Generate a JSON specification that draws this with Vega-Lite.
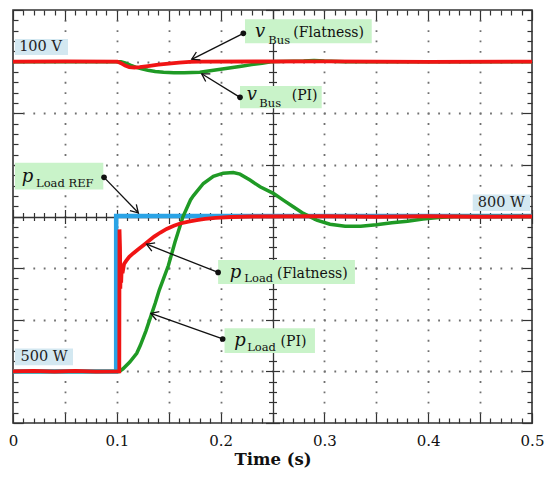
{
  "$schema": "https://vega.github.io/schema/vega-lite/v6.json",
  "width": 519,
  "height": 413,
  "autosize": {"type": "none"},
  "padding": {"left": 13, "top": 10, "right": 18, "bottom": 56},
  "background": "white",
  "config": {
    "view": {"stroke": "#333", "strokeWidth": 1.6},
    "axis": {"domain": false, "grid": false, "labels": false, "ticks": false, "tickColor": "#333", "tickWidth": 1.2}
  },
  "datasets": {
    "pref": [{"t":0,"P":500},{"t":0.0994,"P":500},{"t":0.0994,"P":801},{"t":0.5,"P":801}],
    "ppi": [{"t":0,"P":500},{"t":0.05,"P":500},{"t":0.1024,"P":500},{"t":0.106,"P":505},{"t":0.1125,"P":518},{"t":0.1192,"P":535},{"t":0.1226,"P":550},{"t":0.128,"P":578},{"t":0.133,"P":608},{"t":0.137,"P":632},{"t":0.141,"P":658},{"t":0.1497,"P":705},{"t":0.156,"P":750},{"t":0.1638,"P":800},{"t":0.171,"P":832},{"t":0.1737,"P":840},{"t":0.1834,"P":864},{"t":0.193,"P":878},{"t":0.2025,"P":884},{"t":0.2122,"P":885},{"t":0.2187,"P":882},{"t":0.2283,"P":870.5},{"t":0.238,"P":857.6},{"t":0.2508,"P":844.8},{"t":0.2604,"P":831.8},{"t":0.27,"P":818.8},{"t":0.2797,"P":806},{"t":0.2926,"P":793},{"t":0.3054,"P":785},{"t":0.32,"P":781},{"t":0.335,"P":781},{"t":0.35,"P":784},{"t":0.365,"P":788},{"t":0.38,"P":791},{"t":0.395,"P":795},{"t":0.41,"P":798},{"t":0.425,"P":800},{"t":0.5,"P":800}],
    "pflat": [{"t":0,"P":500},{"t":0.02,"P":501},{"t":0.04,"P":499.5},{"t":0.06,"P":501},{"t":0.08,"P":499.5},{"t":0.1024,"P":500},{"t":0.1026,"P":775},{"t":0.1031,"P":740},{"t":0.1034,"P":660},{"t":0.1038,"P":705},{"t":0.1042,"P":672},{"t":0.1047,"P":700},{"t":0.1055,"P":690},{"t":0.107,"P":708},{"t":0.109,"P":714},{"t":0.112,"P":722},{"t":0.116,"P":729},{"t":0.121,"P":737},{"t":0.126,"P":745},{"t":0.131,"P":753},{"t":0.136,"P":761},{"t":0.142,"P":769},{"t":0.148,"P":776},{"t":0.155,"P":782},{"t":0.161,"P":786.5},{"t":0.169,"P":790},{"t":0.177,"P":793},{"t":0.185,"P":795.5},{"t":0.195,"P":797.5},{"t":0.21,"P":799},{"t":0.23,"P":800},{"t":0.3,"P":800.5},{"t":0.35,"P":799.5},{"t":0.4,"P":800.5},{"t":0.45,"P":799.5},{"t":0.5,"P":800}],
    "vpi": [{"t":0,"V":100},{"t":0.104,"V":100},{"t":0.108,"V":99.88},{"t":0.113,"V":99.66},{"t":0.118,"V":99.47},{"t":0.124,"V":99.3},{"t":0.13,"V":99.17},{"t":0.137,"V":99.05},{"t":0.145,"V":98.97},{"t":0.155,"V":98.93},{"t":0.165,"V":98.93},{"t":0.18,"V":98.97},{"t":0.19,"V":99.12},{"t":0.2,"V":99.26},{"t":0.21,"V":99.41},{"t":0.22,"V":99.56},{"t":0.23,"V":99.71},{"t":0.24,"V":99.85},{"t":0.25,"V":100},{"t":0.28,"V":100.05},{"t":0.29,"V":100.1},{"t":0.3,"V":100.05},{"t":0.32,"V":100},{"t":0.5,"V":100}],
    "vflat": [{"t":0,"V":100},{"t":0.05,"V":100.03},{"t":0.1005,"V":100},{"t":0.104,"V":99.85},{"t":0.108,"V":99.62},{"t":0.112,"V":99.47},{"t":0.117,"V":99.43},{"t":0.122,"V":99.47},{"t":0.13,"V":99.57},{"t":0.14,"V":99.7},{"t":0.15,"V":99.8},{"t":0.16,"V":99.9},{"t":0.17,"V":99.97},{"t":0.18,"V":100},{"t":0.3,"V":100.03},{"t":0.4,"V":99.98},{"t":0.5,"V":100}],
    "gboxes": [
      {"t1":0.2235,"t2":0.3456,"P1":1182,"P2":1135.5},
      {"t1":0.2187,"t2":0.2974,"P1":1052.7,"P2":1009.5},
      {"t1":0.0019,"t2":0.087,"P1":904.1,"P2":852.5},
      {"t1":0.1976,"t2":0.3294,"P1":715.5,"P2":669.2},
      {"t1":0.2038,"t2":0.2909,"P1":583.5,"P2":535.8}
    ],
    "bboxes": [
      {"t1":0.0019,"t2":0.053,"P1":1143.8,"P2":1112.8},
      {"t1":0.4429,"t2":0.4981,"P1":842.8,"P2":810.5},
      {"t1":0.0019,"t2":0.0578,"P1":544.4,"P2":512}
    ],
    "arrows": [
      {"id":1,"t":0.2219,"P":1154.8},{"id":1,"t":0.1722,"P":1104.5},
      {"id":2,"t":0.2187,"P":1030.8},{"id":2,"t":0.1818,"P":1076.4},
      {"id":3,"t":0.0877,"P":875.8},{"id":3,"t":0.1207,"P":807.2},
      {"id":4,"t":0.1976,"P":691.7},{"id":4,"t":0.1287,"P":746.3},
      {"id":5,"t":0.202,"P":562.8},{"id":5,"t":0.1328,"P":612.4}
    ],
    "dots": [
      {"t":0.2219,"P":1154.8},{"t":0.2187,"P":1030.8},{"t":0.0877,"P":875.8},{"t":0.1976,"P":691.7},{"t":0.202,"P":562.8}
    ],
    "heads": [
      {"t":0.1722,"P":1104.5,"ang":153.3},
      {"t":0.1818,"P":1076.4,"ang":211.5},
      {"t":0.1207,"P":807.2,"ang":45.9},
      {"t":0.1287,"P":746.3,"ang":201.5},
      {"t":0.1328,"P":612.4,"ang":199.6}
    ],
    "syms": [
      {"t":0.2331,"P":1147.1,"s":"v"},
      {"t":0.2251,"P":1025.6,"s":"v"},
      {"t":0.0084,"P":867.3,"s":"p"},
      {"t":0.2088,"P":680.6,"s":"p"},
      {"t":0.2132,"P":548.7,"s":"p"}
    ],
    "subs": [
      {"t":0.246,"P":1133.5,"s":"Bus"},
      {"t":0.2373,"P":1011.4,"s":"Bus"},
      {"t":0.0222,"P":856.4,"s":"Load REF"},
      {"t":0.2229,"P":672.3,"s":"Load"},
      {"t":0.2256,"P":540.3,"s":"Load"}
    ],
    "labs": [
      {"t":0.27,"P":1147.1,"s":"(Flatness)"},
      {"t":0.2685,"P":1025.6,"s":"(PI)"},
      {"t":0.2543,"P":680.6,"s":"(Flatness)"},
      {"t":0.2578,"P":548.7,"s":"(PI)"}
    ],
    "boxlabs": [
      {"t":0.0265,"P":1128,"s":"100 V"},
      {"t":0.4705,"P":826.5,"s":"800 W"},
      {"t":0.0299,"P":528.2,"s":"500 W"}
    ]
  },
  "layer": [
    {
      "data": {"name": "pref"},
      "mark": {"type": "line", "color": "#2aa3e6", "strokeWidth": 4.5, "strokeJoin": "miter"},
      "encoding": {
        "x": {"field": "t", "type": "quantitative", "scale": {"domain": [0, 0.5], "nice": false, "zero": false},
          "axis": {"orient": "bottom", "title": null, "values": [0.05,0.1,0.15,0.2,0.25,0.3,0.35,0.4,0.45], "grid": true, "ticks": false, "labels": false, "domain": false,
            "gridColor": {"condition": {"test": "abs(datum.value-0.25)<0.001", "value": "#333"}, "value": "#707070"},
            "gridWidth": {"condition": {"test": "abs(datum.value-0.25)<0.001", "value": 1.3}, "value": 1.8},
            "gridDash": {"condition": {"test": "abs(datum.value-0.25)<0.001", "value": []}, "value": [1.8, 8.52]},
            "gridDashOffset": 0.9}},
        "y": {"field": "P", "type": "quantitative", "scale": {"domain": [400, 1200], "nice": false, "zero": false},
          "axis": {"orient": "left", "title": null, "values": [500,600,700,800,900,1000,1100], "grid": true, "ticks": false, "labels": false, "domain": false,
            "gridColor": {"condition": {"test": "datum.value==800", "value": "#333"}, "value": "#707070"},
            "gridWidth": {"condition": {"test": "datum.value==800", "value": 1.3}, "value": 1.8},
            "gridDash": {"condition": {"test": "datum.value==800", "value": []}, "value": [1.8, 8.58]},
            "gridDashOffset": 0.9}}
      }
    },
    {
      "data": {"name": "ppi"},
      "mark": {"type": "line", "color": "#1f9a25", "strokeWidth": 3.5},
      "encoding": {
        "x": {"field": "t", "type": "quantitative", "scale": {"domain": [0, 0.5], "nice": false, "zero": false},
          "axis": {"orient": "bottom", "values": [0,0.1,0.2,0.3,0.4,0.5], "format": "~g", "labels": true, "ticks": false, "domain": false, "grid": false,
            "labelFlush": false, "labelOverlap": false, "labelPadding": 10, "labelFont": "DejaVu Serif", "labelFontSize": 15, "labelColor": "#111",
            "title": "Time (s)", "titleFont": "DejaVu Serif", "titleFontSize": 16.5, "titleFontWeight": "bold", "titleColor": "#111", "titlePadding": 3}},
        "y": {"field": "P", "type": "quantitative", "scale": {"domain": [400, 1200], "nice": false, "zero": false},
          "axis": {"orient": "left", "title": null, "values": [400,420,440,460,480,500,520,540,560,580,600,620,640,660,680,700,720,740,760,780,800,820,840,860,880,900,920,940,960,980,1000,1020,1040,1060,1080,1100,1120,1140,1160,1180,1200],
            "ticks": true, "labels": false, "domain": false, "grid": false,
            "tickSize": {"condition": {"test": "datum.value%100==0", "value": -10}, "value": -5}}}
      }
    },
    {
      "data": {"name": "pflat"},
      "mark": {"type": "line", "color": "#f01414", "strokeWidth": 3.8},
      "encoding": {
        "x": {"field": "t", "type": "quantitative", "scale": {"domain": [0, 0.5], "nice": false, "zero": false},
          "axis": {"orient": "bottom", "title": null, "values": [0,0.01,0.02,0.03,0.04,0.05,0.06,0.07,0.08,0.09,0.1,0.11,0.12,0.13,0.14,0.15,0.16,0.17,0.18,0.19,0.2,0.21,0.22,0.23,0.24,0.25,0.26,0.27,0.28,0.29,0.3,0.31,0.32,0.33,0.34,0.35,0.36,0.37,0.38,0.39,0.4,0.41,0.42,0.43,0.44,0.45,0.46,0.47,0.48,0.49,0.5],
            "ticks": true, "labels": false, "domain": false, "grid": false,
            "tickSize": {"condition": {"test": "abs(datum.value*20-round(datum.value*20))<0.01", "value": -10}, "value": -5}}},
        "y": {"field": "P", "type": "quantitative", "scale": {"domain": [400, 1200], "nice": false, "zero": false},
          "axis": {"orient": "right", "title": null, "values": [400,420,440,460,480,500,520,540,560,580,600,620,640,660,680,700,720,740,760,780,800,820,840,860,880,900,920,940,960,980,1000,1020,1040,1060,1080,1100,1120,1140,1160,1180,1200],
            "ticks": true, "labels": false, "domain": false, "grid": false,
            "tickSize": {"condition": {"test": "datum.value%100==0", "value": -10}, "value": -5}}}
      }
    },
    {
      "data": {"name": "vpi"},
      "mark": {"type": "line", "color": "#1f9a25", "strokeWidth": 3.5},
      "encoding": {
        "x": {"field": "t", "type": "quantitative", "scale": {"domain": [0, 0.5], "nice": false, "zero": false},
          "axis": {"orient": "top", "title": null, "values": [0,0.01,0.02,0.03,0.04,0.05,0.06,0.07,0.08,0.09,0.1,0.11,0.12,0.13,0.14,0.15,0.16,0.17,0.18,0.19,0.2,0.21,0.22,0.23,0.24,0.25,0.26,0.27,0.28,0.29,0.3,0.31,0.32,0.33,0.34,0.35,0.36,0.37,0.38,0.39,0.4,0.41,0.42,0.43,0.44,0.45,0.46,0.47,0.48,0.49,0.5],
            "ticks": true, "labels": false, "domain": false, "grid": false,
            "tickSize": {"condition": {"test": "abs(datum.value*20-round(datum.value*20))<0.01", "value": -10}, "value": -5}}},
        "y": {"field": "V", "type": "quantitative", "scale": {"domain": [65, 105], "nice": false, "zero": false}, "axis": null}
      }
    },
    {
      "data": {"name": "vflat"},
      "mark": {"type": "line", "color": "#f01414", "strokeWidth": 3.8},
      "encoding": {
        "x": {"field": "t", "type": "quantitative", "scale": {"domain": [0, 0.5], "nice": false, "zero": false}, "axis": null},
        "y": {"field": "V", "type": "quantitative", "scale": {"domain": [65, 105], "nice": false, "zero": false}, "axis": null}
      }
    },
    {
      "data": {"name": "gboxes"},
      "mark": {"type": "rect", "color": "#c9f3c9"},
      "encoding": {
        "x": {"field": "t1", "type": "quantitative", "scale": {"domain": [0, 0.5], "nice": false, "zero": false},
          "axis": {"orient": "bottom", "offset": -206.5, "title": null, "values": [0,0.01,0.02,0.03,0.04,0.05,0.06,0.07,0.08,0.09,0.1,0.11,0.12,0.13,0.14,0.15,0.16,0.17,0.18,0.19,0.2,0.21,0.22,0.23,0.24,0.25,0.26,0.27,0.28,0.29,0.3,0.31,0.32,0.33,0.34,0.35,0.36,0.37,0.38,0.39,0.4,0.41,0.42,0.43,0.44,0.45,0.46,0.47,0.48,0.49,0.5],
            "ticks": true, "labels": false, "domain": false, "grid": false,
            "tickSize": {"condition": {"test": "abs(datum.value*20-round(datum.value*20))<0.01", "value": 7}, "value": 4}}},
        "x2": {"field": "t2"},
        "y": {"field": "P1", "type": "quantitative", "scale": {"domain": [400, 1200], "nice": false, "zero": false},
          "axis": {"orient": "left", "offset": -259.5, "title": null, "values": [400,420,440,460,480,500,520,540,560,580,600,620,640,660,680,700,720,740,760,780,800,820,840,860,880,900,920,940,960,980,1000,1020,1040,1060,1080,1100,1120,1140,1160,1180,1200],
            "ticks": true, "labels": false, "domain": false, "grid": false,
            "tickSize": {"condition": {"test": "datum.value%100==0", "value": 7}, "value": 4}}},
        "y2": {"field": "P2"}
      }
    },
    {
      "data": {"name": "bboxes"},
      "mark": {"type": "rect", "color": "#d3e8f1"},
      "encoding": {
        "x": {"field": "t1", "type": "quantitative", "scale": {"domain": [0, 0.5], "nice": false, "zero": false},
          "axis": {"orient": "bottom", "offset": -206.5, "title": null, "values": [0,0.01,0.02,0.03,0.04,0.05,0.06,0.07,0.08,0.09,0.1,0.11,0.12,0.13,0.14,0.15,0.16,0.17,0.18,0.19,0.2,0.21,0.22,0.23,0.24,0.25,0.26,0.27,0.28,0.29,0.3,0.31,0.32,0.33,0.34,0.35,0.36,0.37,0.38,0.39,0.4,0.41,0.42,0.43,0.44,0.45,0.46,0.47,0.48,0.49,0.5],
            "ticks": true, "labels": false, "domain": false, "grid": false,
            "tickSize": {"condition": {"test": "abs(datum.value*20-round(datum.value*20))<0.01", "value": -7}, "value": -4}}},
        "x2": {"field": "t2"},
        "y": {"field": "P1", "type": "quantitative", "scale": {"domain": [400, 1200], "nice": false, "zero": false},
          "axis": {"orient": "left", "offset": -259.5, "title": null, "values": [400,420,440,460,480,500,520,540,560,580,600,620,640,660,680,700,720,740,760,780,800,820,840,860,880,900,920,940,960,980,1000,1020,1040,1060,1080,1100,1120,1140,1160,1180,1200],
            "ticks": true, "labels": false, "domain": false, "grid": false,
            "tickSize": {"condition": {"test": "datum.value%100==0", "value": -7}, "value": -4}}},
        "y2": {"field": "P2"}
      }
    },
    {
      "data": {"name": "arrows"},
      "mark": {"type": "line", "color": "#111", "strokeWidth": 1.3},
      "encoding": {
        "x": {"field": "t", "type": "quantitative", "scale": {"domain": [0, 0.5], "nice": false, "zero": false}, "axis": null},
        "y": {"field": "P", "type": "quantitative", "scale": {"domain": [400, 1200], "nice": false, "zero": false}, "axis": null},
        "detail": {"field": "id", "type": "nominal"}
      }
    },
    {
      "data": {"name": "dots"},
      "mark": {"type": "point", "shape": "circle", "filled": true, "color": "#111", "size": 32, "opacity": 1},
      "encoding": {
        "x": {"field": "t", "type": "quantitative", "scale": {"domain": [0, 0.5], "nice": false, "zero": false}, "axis": null},
        "y": {"field": "P", "type": "quantitative", "scale": {"domain": [400, 1200], "nice": false, "zero": false}, "axis": null}
      }
    },
    {
      "data": {"name": "heads"},
      "mark": {"type": "point", "shape": "M-1,-0.6L0,0L-1,0.6", "filled": false, "stroke": "#111", "strokeWidth": 1.3, "size": 220, "opacity": 1},
      "encoding": {
        "x": {"field": "t", "type": "quantitative", "scale": {"domain": [0, 0.5], "nice": false, "zero": false}, "axis": null},
        "y": {"field": "P", "type": "quantitative", "scale": {"domain": [400, 1200], "nice": false, "zero": false}, "axis": null},
        "angle": {"field": "ang", "type": "quantitative", "scale": null}
      }
    },
    {
      "data": {"name": "syms"},
      "mark": {"type": "text", "font": "DejaVu Serif", "fontStyle": "italic", "fontSize": 18, "align": "left", "baseline": "alphabetic", "color": "#111"},
      "encoding": {
        "x": {"field": "t", "type": "quantitative", "scale": {"domain": [0, 0.5], "nice": false, "zero": false}, "axis": null},
        "y": {"field": "P", "type": "quantitative", "scale": {"domain": [400, 1200], "nice": false, "zero": false}, "axis": null},
        "text": {"field": "s"}
      }
    },
    {
      "data": {"name": "subs"},
      "mark": {"type": "text", "font": "DejaVu Serif", "fontSize": 11.5, "align": "left", "baseline": "alphabetic", "color": "#111"},
      "encoding": {
        "x": {"field": "t", "type": "quantitative", "scale": {"domain": [0, 0.5], "nice": false, "zero": false}, "axis": null},
        "y": {"field": "P", "type": "quantitative", "scale": {"domain": [400, 1200], "nice": false, "zero": false}, "axis": null},
        "text": {"field": "s"}
      }
    },
    {
      "data": {"name": "labs"},
      "mark": {"type": "text", "font": "DejaVu Serif", "fontSize": 14, "align": "left", "baseline": "alphabetic", "color": "#111"},
      "encoding": {
        "x": {"field": "t", "type": "quantitative", "scale": {"domain": [0, 0.5], "nice": false, "zero": false}, "axis": null},
        "y": {"field": "P", "type": "quantitative", "scale": {"domain": [400, 1200], "nice": false, "zero": false}, "axis": null},
        "text": {"field": "s"}
      }
    },
    {
      "data": {"name": "boxlabs"},
      "mark": {"type": "text", "font": "DejaVu Serif", "fontSize": 14.5, "align": "center", "baseline": "middle", "color": "#222"},
      "encoding": {
        "x": {"field": "t", "type": "quantitative", "scale": {"domain": [0, 0.5], "nice": false, "zero": false}, "axis": null},
        "y": {"field": "P", "type": "quantitative", "scale": {"domain": [400, 1200], "nice": false, "zero": false}, "axis": null},
        "text": {"field": "s"}
      }
    }
  ],
  "resolve": {"scale": {"y": "independent"}, "axis": {"x": "independent", "y": "independent"}}
}
